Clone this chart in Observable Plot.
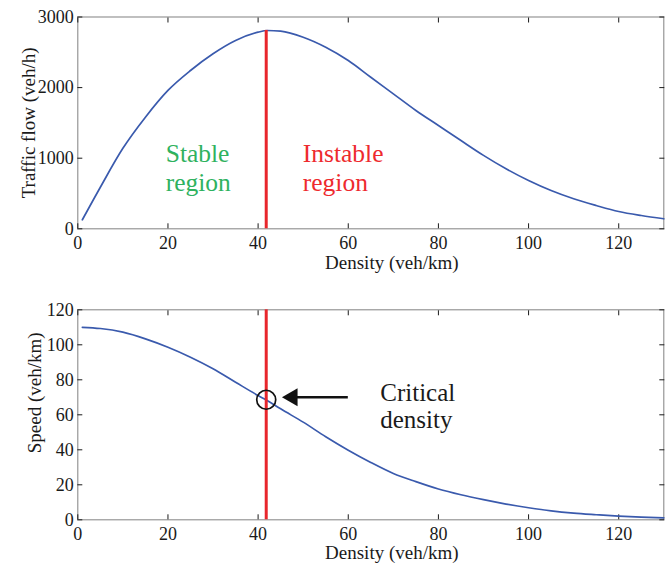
<!DOCTYPE html>
<html><head><meta charset="utf-8">
<script src="https://cdn.jsdelivr.net/npm/d3@7"></script>
<script src="https://cdn.jsdelivr.net/npm/@observablehq/plot@0.6"></script>
<style>
html,body{margin:0;padding:0;background:#fff}
#c svg{display:block}
#c svg, #c svg text{font-family:"Liberation Serif","Times New Roman",Times,serif !important}
</style>
</head><body><div id="c"></div>
<script>
// Density (veh/km) sample points
const density = [1, 5, 10, 15, 20, 25, 30, 35, 40, 42, 45, 50, 55, 60, 65, 70, 75, 80, 85, 90, 95, 100, 105, 110, 115, 120, 125, 130];
// Traffic flow (veh/h)
const flow = [127, 589, 1140, 1581, 1960, 2242, 2479, 2667, 2785, 2809, 2799, 2714, 2572, 2384, 2147, 1912, 1676, 1463, 1250, 1040, 850, 684, 542, 425, 330, 245, 188, 142];
// Speed (km/h, labelled veh/km in the source)
const speed = [110, 109.3, 107.2, 103.4, 98.6, 92.9, 86.3, 78.6, 71, 68.2, 63.4, 55.8, 47.5, 39.8, 32.8, 26.5, 21.8, 17.6, 14.3, 11.5, 9, 6.9, 5.1, 3.8, 2.9, 2.1, 1.5, 1.1];

const xTicks = [0, 20, 40, 60, 80, 100, 120];
const flowTicks = [0, 1000, 2000, 3000];
const speedTicks = [0, 20, 40, 60, 80, 100, 120];

const criticalDensity = 41.8;
const maxFlow = 2810;
const criticalSpeed = 68.6;

const xLabel = "Density (veh/km)";
const flowLabel = "Traffic flow (veh/h)";
const speedLabel = "Speed (veh/km)";

const regionNotes = [
  {x: 19.5, y: 542, text: "Stable\nregion", color: "#2fb25f"},
  {x: 49.9, y: 542, text: "Instable\nregion", color: "#ee2a2e"}
];
const criticalNote = {x: 67.1, y: 52.2, text: "Critical\ndensity"};
const arrowShaft = {x1: 47, x2: 59.9, y: 70};
const arrowHead = {x: 47.6, y: 70};

const flowData = density.map((d, i) => ({density: d, value: flow[i]}));
const speedData = density.map((d, i) => ({density: d, value: speed[i]}));

const serif = "Liberation Serif, Times New Roman, Times, serif";
const fmt = d => String(d);

function frameMarks(yTicks) {
  return [
    Plot.frame({stroke: "#8c8c8c", strokeWidth: 1.1}),
    Plot.axisX({ticks: xTicks, anchor: "bottom", tickSize: -5, tickPadding: 12, tickFormat: fmt, label: null, fontSize: 18, fontFamily: serif}),
    Plot.axisX({ticks: xTicks, anchor: "top", tickSize: -5, tickFormat: () => "", label: null}),
    Plot.axisY({ticks: yTicks, anchor: "left", tickSize: -5, tickPadding: 9, tickFormat: fmt, label: null, fontSize: 18, fontFamily: serif}),
    Plot.axisY({ticks: yTicks, anchor: "right", tickSize: -5, tickFormat: () => "", label: null})
  ];
}

const flowChart = Plot.plot({
  width: 668, height: 280,
  marginLeft: 77.3, marginRight: 4.7, marginTop: 16.5, marginBottom: 51.7,
  style: {fontFamily: serif, fontSize: "18px", color: "#1a1a1a", background: "#fff", overflow: "visible"},
  x: {domain: [0, 130]},
  y: {domain: [0, 3000]},
  marks: [
    ...frameMarks(flowTicks),
    Plot.line(flowData, {x: "density", y: "value", stroke: "#3a5aad", strokeWidth: 1.7, curve: "monotone-x"}),
    Plot.ruleX([{x: criticalDensity, y2: maxFlow}], {x: "x", y1: 0, y2: "y2", stroke: "#e8262c", strokeWidth: 3}),
    Plot.text(regionNotes, {x: "x", y: "y", text: "text", fill: "color", textAnchor: "start", lineAnchor: "bottom", lineHeight: 1.1, fontSize: 25.5, fontFamily: serif}),
    Plot.text([xLabel], {frameAnchor: "bottom", textAnchor: "middle", dx: 21, dy: 40, lineAnchor: "bottom", fontSize: 19, fontFamily: serif}),
    Plot.text([flowLabel], {frameAnchor: "left", textAnchor: "middle", lineAnchor: "middle", rotate: -90, dx: -49.3, fontSize: 19, fontFamily: serif})
  ]
});

const speedChart = Plot.plot({
  width: 668, height: 287,
  marginLeft: 77.3, marginRight: 4.7, marginTop: 29.3, marginBottom: 47.7,
  style: {fontFamily: serif, fontSize: "18px", color: "#1a1a1a", background: "#fff", overflow: "visible"},
  x: {domain: [0, 130]},
  y: {domain: [0, 120]},
  marks: [
    ...frameMarks(speedTicks),
    Plot.line(speedData, {x: "density", y: "value", stroke: "#3a5aad", strokeWidth: 1.7, curve: "monotone-x"}),
    Plot.ruleX([criticalDensity], {stroke: "#e8262c", strokeWidth: 3}),
    Plot.dot([{x: criticalDensity, y: criticalSpeed}], {x: "x", y: "y", r: 9.5, stroke: "#111", strokeWidth: 1.7, fill: "none"}),
    Plot.link([arrowShaft], {x1: "x1", x2: "x2", y1: "y", y2: "y", stroke: "#111", strokeWidth: 2.6}),
    Plot.dot([arrowHead], {x: "x", y: "y", symbol: "triangle", r: 6.7, rotate: -90, fill: "#111", stroke: "none"}),
    Plot.text([criticalNote], {x: "x", y: "y", text: "text", fill: "#1a1a1a", textAnchor: "start", lineAnchor: "bottom", lineHeight: 1.1, fontSize: 25, fontFamily: serif}),
    Plot.text([xLabel], {frameAnchor: "bottom", textAnchor: "middle", dx: 21, dy: 39, lineAnchor: "bottom", fontSize: 19, fontFamily: serif}),
    Plot.text([speedLabel], {frameAnchor: "left", textAnchor: "middle", lineAnchor: "middle", rotate: -90, dx: -42.8, dy: -22, fontSize: 19, fontFamily: serif})
  ]
});

document.getElementById("c").append(flowChart, speedChart);
</script>
</body></html>
